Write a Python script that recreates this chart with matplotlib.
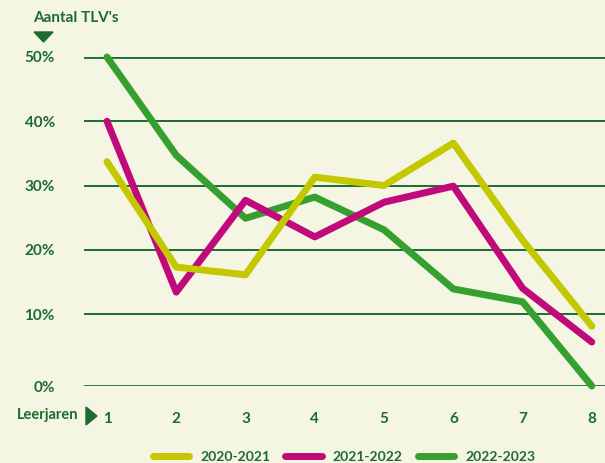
import matplotlib
matplotlib.use('Agg')
import matplotlib.pyplot as plt
import numpy as np
from matplotlib.lines import Line2D
from matplotlib.patches import Polygon

# data (percent of TLV's per leerjaar)
leerjaren = [1, 2, 3, 4, 5, 6, 7, 8]
y_2020_2021 = [33.7, 17.3, 16.1, 31.3, 30.0, 36.6, 21.5, 8.3]
y_2021_2022 = [40.0, 13.4, 27.7, 22.0, 27.4, 29.9, 14.0, 6.1]
y_2022_2023 = [50.0, 34.7, 24.9, 28.2, 23.1, 13.9, 11.9, 0.0]
series_labels = ['2020-2021', '2021-2022', '2022-2023']
y_ticks = [0, 10, 20, 30, 40, 50]
y_ticklabels = ['0%', '10%', '20%', '30%', '40%', '50%']

bg = '#f4f5e2'
dark = '#1d6b32'
colors = ['#c3c800', '#c0097a', '#35a02f']

W, H = 605, 463

# the original axis has a slightly taller 0-10% band
stretch = 72.0 / 64.25


def fwd(y):
    y = np.asarray(y, dtype=float)
    return np.where(y >= 10, y, 10 - (10 - y) * stretch)


def inv(v):
    v = np.asarray(v, dtype=float)
    return np.where(v >= 10, v, 10 - (10 - v) / stretch)


def px(x, y):
    # pixel position (from top-left) -> figure fraction
    return (x / W, 1 - y / H)


plt.rcParams['font.family'] = ['Lato', 'DejaVu Sans']

fig = plt.figure(figsize=(W / 100, H / 100), dpi=100, facecolor=bg)
ax = fig.add_axes([84 / W, 77 / H, 521 / W, 329 / H])
ax.set_facecolor(bg)
ax.set_yscale('function', functions=(fwd, inv))
ax.set_ylim(0, 50)
ax.set_xlim(0.668, 8.19)

for t in y_ticks:
    lw = 2.0 if t in (0, 50) else 1.4
    ax.axhline(t, color=dark, lw=lw, zorder=1)

for s in ax.spines.values():
    s.set_visible(False)

ax.set_yticks(y_ticks)
ax.set_yticklabels(y_ticklabels, fontsize=11, fontweight='bold', color=dark)
ax.tick_params(axis='y', length=0, pad=21)
ax.set_xticks(leerjaren)
ax.set_xticklabels([str(x) for x in leerjaren], fontsize=11, fontweight='bold', color=dark)
ax.tick_params(axis='x', length=0, pad=19)

# yellow on top, green at the bottom
series = [y_2022_2023, y_2021_2022, y_2020_2021]
cols = [colors[2], colors[1], colors[0]]
for i, (ys, c) in enumerate(zip(series, cols)):
    ax.plot(leerjaren, ys, color=c, lw=5, solid_capstyle='round',
            solid_joinstyle='round', clip_on=False, zorder=3 + i)

# axis captions
fig.text(*px(33, 18), "Aantal TLV's", fontsize=11, fontweight='bold',
         color=dark, ha='left', va='center')
fig.patches.append(Polygon([px(34, 32), px(53, 32), px(43.5, 42)], closed=True,
                           transform=fig.transFigure, color=dark))
fig.text(*px(17, 415), 'Leerjaren', fontsize=10.5, fontweight='bold',
         color=dark, ha='left', va='center')
fig.patches.append(Polygon([px(86, 407), px(86, 425), px(97, 416)], closed=True,
                           transform=fig.transFigure, color=dark))

handles = [Line2D([], [], color=c, lw=5, solid_capstyle='round') for c in colors]
leg = fig.legend(handles, series_labels, ncol=3, loc='center',
                 bbox_to_anchor=px(344, 457), frameon=False,
                 handlelength=2.6, columnspacing=1.1, handletextpad=0.8,
                 prop={'size': 10, 'weight': 'bold'})
for t in leg.get_texts():
    t.set_color(dark)

fig.savefig('out.png', dpi=100, facecolor=bg)
